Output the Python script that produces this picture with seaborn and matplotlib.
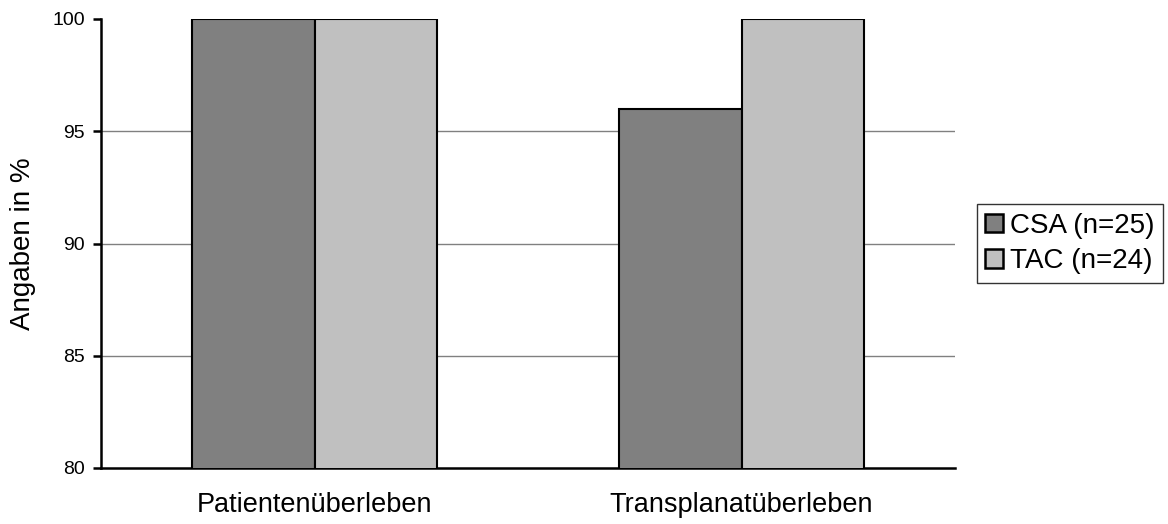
import matplotlib
matplotlib.use("Agg")
import matplotlib.pyplot as plt
import seaborn as sns
import pandas as pd

categories = ["Patientenüberleben", "Transplanatüberleben"]
groups = ["CSA (n=25)", "TAC (n=24)"]
csa_values = [100, 96]
tac_values = [100, 100]
palette = ["#808080", "#C0C0C0"]

df = pd.DataFrame({
    "Kategorie": categories * 2,
    "Gruppe": [groups[0]] * len(categories) + [groups[1]] * len(categories),
    "Wert": csa_values + tac_values,
})

sns.set_style("white")
plt.rcParams["font.family"] = ["Liberation Sans", "DejaVu Sans"]
plt.rcParams["text.color"] = "black"
plt.rcParams["axes.labelcolor"] = "black"
plt.rcParams["xtick.color"] = "black"
plt.rcParams["ytick.color"] = "black"

fig = plt.figure(figsize=(11.68, 5.24), dpi=100)
ax = fig.add_axes([101 / 1168, 1 - 468 / 524, 854 / 1168, 449 / 524])

sns.barplot(data=df, x="Kategorie", y="Wert", hue="Gruppe", palette=palette,
            width=0.573, edgecolor="black", linewidth=1.5, ax=ax, zorder=3,
            legend=True)

ax.set_ylim(80, 100)
ax.set_xlim(-0.5, 1.5)
ax.set_yticks([80, 85, 90, 95, 100])
for y in [85, 90, 95]:
    ax.axhline(y, color="#808080", linewidth=1, zorder=1)

ax.set_xticks([0, 1])
ax.set_xticklabels(categories, fontsize=19.5)
ax.set_xticks([-0.5, 0.5, 1.5], minor=True)
ax.tick_params(axis="x", which="major", length=0, pad=17)
ax.tick_params(axis="x", which="minor", length=6.5, width=1.8, direction="out", color="black")
ax.tick_params(axis="y", length=6, width=1.8, direction="out", color="black",
               labelsize=14, pad=5.5, left=True)
ax.set_xlabel("")
ax.set_ylabel("Angaben in %", fontsize=20, labelpad=12)

for side in ["top", "right"]:
    ax.spines[side].set_visible(False)
for side in ["left", "bottom"]:
    ax.spines[side].set_color("black")
    ax.spines[side].set_linewidth(1.8)

handles, labels = ax.get_legend_handles_labels()
ax.legend(handles, labels, loc="center left", bbox_to_anchor=(977 / 1168, 1 - 243.5 / 524),
          bbox_transform=fig.transFigure, frameon=True, fancybox=False,
          edgecolor="black", fontsize=20, handlelength=0.65, handleheight=0.65,
          handletextpad=0.25, borderpad=0.3, labelspacing=0.35, borderaxespad=0)
ax.get_legend().get_frame().set_linewidth(1)
for h in ax.get_legend().legend_handles:
    h.set_linewidth(1.8)

fig.savefig("out.png", dpi=100)
